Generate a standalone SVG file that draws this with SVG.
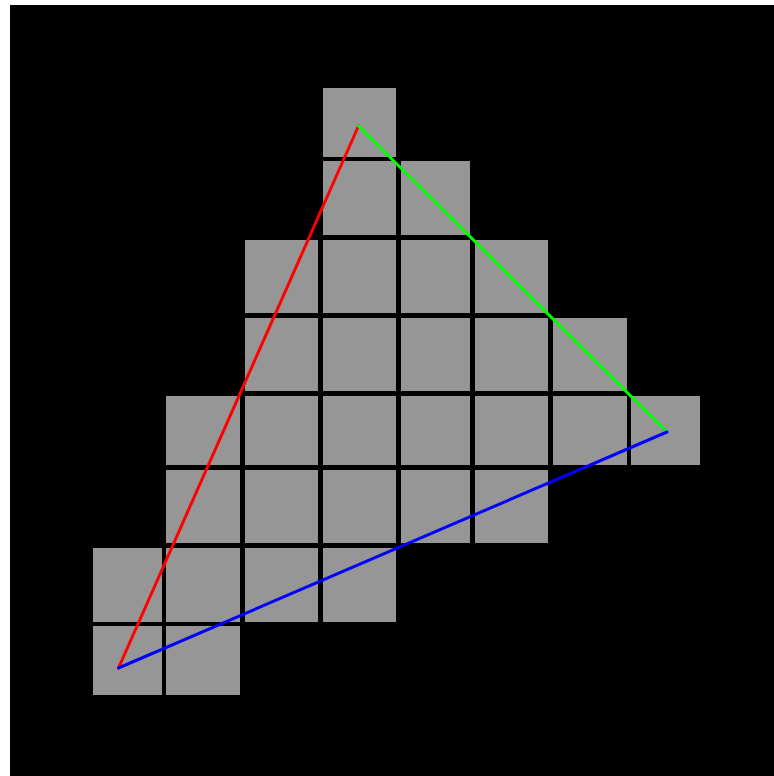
<svg xmlns="http://www.w3.org/2000/svg" width="774" height="776" viewBox="0 0 774 776">
<style>
.c{fill:#969696}
.e{stroke-width:3;fill:none;stroke-linecap:round}
</style>
<rect x="0" y="0" width="774" height="776" fill="#ffffff"/>
<rect x="10" y="5" width="764" height="771" fill="#000000"/>
<g id="cells">
<rect class="c" x="323" y="88" width="73" height="69"/>
<rect class="c" x="323" y="161" width="73" height="74"/>
<rect class="c" x="401" y="161" width="69" height="74"/>
<rect class="c" x="245" y="240" width="73" height="73"/>
<rect class="c" x="323" y="240" width="73" height="73"/>
<rect class="c" x="401" y="240" width="69" height="73"/>
<rect class="c" x="475" y="240" width="73" height="73"/>
<rect class="c" x="245" y="318" width="73" height="73"/>
<rect class="c" x="323" y="318" width="73" height="73"/>
<rect class="c" x="401" y="318" width="69" height="73"/>
<rect class="c" x="475" y="318" width="73" height="73"/>
<rect class="c" x="553" y="318" width="74" height="73"/>
<rect class="c" x="166" y="396" width="74" height="69"/>
<rect class="c" x="245" y="396" width="73" height="69"/>
<rect class="c" x="323" y="396" width="73" height="69"/>
<rect class="c" x="401" y="396" width="69" height="69"/>
<rect class="c" x="475" y="396" width="73" height="69"/>
<rect class="c" x="553" y="396" width="74" height="69"/>
<rect class="c" x="631" y="396" width="69" height="69"/>
<rect class="c" x="166" y="470" width="74" height="73"/>
<rect class="c" x="245" y="470" width="73" height="73"/>
<rect class="c" x="323" y="470" width="73" height="73"/>
<rect class="c" x="401" y="470" width="69" height="73"/>
<rect class="c" x="475" y="470" width="73" height="73"/>
<rect class="c" x="93" y="548" width="69" height="74"/>
<rect class="c" x="166" y="548" width="74" height="74"/>
<rect class="c" x="245" y="548" width="73" height="74"/>
<rect class="c" x="323" y="548" width="73" height="74"/>
<rect class="c" x="93" y="626" width="69" height="69"/>
<rect class="c" x="166" y="626" width="74" height="69"/>
</g>
<g id="connectors">
<line class="e" x1="118.5" y1="668" x2="358.5" y2="126" stroke="#ff0000"/>
<line class="e" x1="358.5" y1="126" x2="667" y2="432" stroke="#00ff00"/>
<line class="e" x1="667" y1="432" x2="118.5" y2="668" stroke="#0000ff"/>
</g>
</svg>
